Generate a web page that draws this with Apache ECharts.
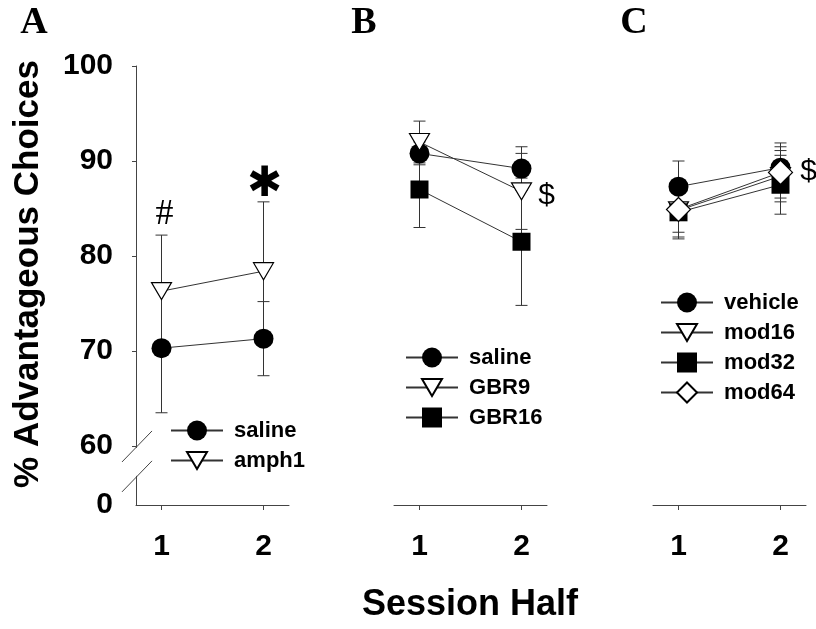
<!DOCTYPE html>
<html>
<head>
<meta charset="utf-8">
<script src="https://cdn.jsdelivr.net/npm/echarts@6/dist/echarts.min.js"></script>
<style>
  html, body { margin: 0; padding: 0; background: #fff; }
  #main { width: 816px; height: 629px; }
</style>
</head>
<body>
<div id="main"></div>
<script>
// session halves on the x axis
const halves = [1, 2];
const xTicks = [1, 2];
const yTicks = [60, 70, 80, 90, 100];

// panel A
const salineA = [70.3, 71.3];
const salineAErr = [6.8, 3.9];
const amph1 = [76.3, 78.4];
const amph1Err = [5.9, 7.3];

// panel B
const salineB = [90.8, 89.2];
const salineBErr = [1.2, 2.3];
const gbr9 = [92.0, 86.8];
const gbr9Err = [2.2, 4.0];
const gbr16 = [87.0, 81.5];
const gbr16Err = [4.0, 6.7];

// panel C
const vehicle = [87.3, 89.3];
const vehicleErr = [2.7, 2.6];
const mod16 = [84.8, 88.4];
const mod16Err = [3.0, 2.7];
const mod32 = [84.6, 87.5];
const mod32Err = [2.6, 3.1];
const mod64 = [84.9, 88.8];
const mod64Err = [2.4, 2.7];

const FONT = 'Liberation Sans, Arial, sans-serif';
const SERIF = 'Liberation Serif, Times New Roman, serif';
const AXIS_COLOR = '#444';
const Y_MIN = 53.79;   // bottom of the plot, shown as "0" below the break
// downward triangle, padded to a square box so the legend keeps its shape
const TRI = 'path://M0,1.5L20,1.5L10,18.5ZM0,0M0,20';

const chart = echarts.init(document.getElementById('main'), null, { renderer: 'canvas' });

function grid(left) {
  return { left: left, top: 66, width: 153, height: 439, containLabel: false, outerBoundsMode: 'none' };
}

function xAxis(idx) {
  return {
    type: 'value', gridIndex: idx, min: 0.75, max: 2.25,
    splitLine: { show: false },
    axisLine: { show: true, lineStyle: { color: AXIS_COLOR, width: 1 } },
    axisTick: { show: true, customValues: xTicks, length: 5, lineStyle: { color: AXIS_COLOR } },
    axisLabel: {
      show: true, customValues: xTicks, margin: 27,
      color: '#000', fontSize: 30, fontWeight: 'bold', fontFamily: FONT
    }
  };
}

function yAxis(idx, visible) {
  return {
    type: 'value', gridIndex: idx, min: Y_MIN, max: 100,
    splitLine: { show: false },
    axisLine: { show: visible, onZero: false, lineStyle: { color: AXIS_COLOR, width: 1 } },
    axisTick: { show: visible, customValues: yTicks, length: 4, lineStyle: { color: AXIS_COLOR } },
    axisLabel: {
      show: visible, customValues: [Y_MIN].concat(yTicks), margin: 23,
      color: '#000', fontSize: 30, fontWeight: 'bold', fontFamily: FONT,
      formatter: v => (v < 55 ? '0' : String(Math.round(v)))
    }
  };
}

function lineSeries(name, values, idx, symbol, size, fill) {
  const open = fill === '#fff';
  return {
    name: name, type: 'line', xAxisIndex: idx, yAxisIndex: idx,
    data: halves.map((h, i) => [h, values[i]]),
    symbol: symbol, symbolSize: size, showAllSymbol: true,
    itemStyle: { color: fill, borderColor: '#000', borderWidth: open ? 1.2 : 0, opacity: 1 },
    lineStyle: { color: '#333', width: 1 },
    emphasis: { disabled: true },
    z: 3, animation: false
  };
}

function renderErr(params, api) {
  const x = api.value(0);
  const top = api.coord([x, api.value(2)]);
  const bot = api.coord([x, api.value(1)]);
  const w = 6;
  const st = { stroke: '#333', lineWidth: 1 };
  return {
    type: 'group',
    children: [
      { type: 'line', shape: { x1: top[0], y1: top[1], x2: bot[0], y2: bot[1] }, style: st },
      { type: 'line', shape: { x1: top[0] - w, y1: top[1], x2: top[0] + w, y2: top[1] }, style: st },
      { type: 'line', shape: { x1: bot[0] - w, y1: bot[1], x2: bot[0] + w, y2: bot[1] }, style: st }
    ]
  };
}

function errSeries(idx, groups) {
  const data = [];
  groups.forEach(g => {
    halves.forEach((h, i) => data.push([h, g[0][i] - g[1][i], g[0][i] + g[1][i]]));
  });
  return {
    name: 'err' + idx, type: 'custom', xAxisIndex: idx, yAxisIndex: idx,
    encode: { x: 0, y: [1, 2] },
    data: data, renderItem: renderErr, silent: true, z: 1, animation: false
  };
}

function legend(names, left, top) {
  return {
    data: names, orient: 'vertical', left: left, top: top, padding: 0,
    itemWidth: 52, itemHeight: 25, itemGap: 5, selectedMode: false,
    formatter: n => ' ' + n,
    textStyle: { color: '#000', fontSize: 22, fontWeight: 'bold', fontFamily: FONT, lineHeight: 25 }
  };
}

const option = {
  backgroundColor: '#fff',
  animation: false,
  grid: [grid(136), grid(394), grid(653)],
  xAxis: [xAxis(0), xAxis(1), xAxis(2)],
  yAxis: [yAxis(0, true), yAxis(1, false), yAxis(2, false)],
  legend: [
    legend(['saline', 'amph1'], 170, 418),
    legend(['saline', 'GBR9', 'GBR16'], 405, 345),
    legend(['vehicle', 'mod16', 'mod32', 'mod64'], 660, 290)
  ],
  series: [
    errSeries(0, [[salineA, salineAErr], [amph1, amph1Err]]),
    errSeries(1, [[salineB, salineBErr], [gbr9, gbr9Err], [gbr16, gbr16Err]]),
    errSeries(2, [[vehicle, vehicleErr], [mod16, mod16Err], [mod32, mod32Err], [mod64, mod64Err]]),
    lineSeries('saline', salineA, 0, 'circle', 20, '#000'),
    lineSeries('amph1', amph1, 0, TRI, 20, '#fff'),
    lineSeries('saline', salineB, 1, 'circle', 20, '#000'),
    lineSeries('GBR9', gbr9, 1, TRI, 20, '#fff'),
    lineSeries('GBR16', gbr16, 1, 'rect', 18, '#000'),
    lineSeries('vehicle', vehicle, 2, 'circle', 20, '#000'),
    lineSeries('mod16', mod16, 2, TRI, 20, '#fff'),
    lineSeries('mod32', mod32, 2, 'rect', 18, '#000'),
    lineSeries('mod64', mod64, 2, 'diamond', 24, '#fff')
  ]
};
chart.setOption(option);

// decorations placed from the axes
const pA = v => chart.convertToPixel({ xAxisIndex: 0, yAxisIndex: 0 }, v);
const pB = v => chart.convertToPixel({ xAxisIndex: 1, yAxisIndex: 1 }, v);
const pC = v => chart.convertToPixel({ xAxisIndex: 2, yAxisIndex: 2 }, v);

function txt(x, y, s, font, rot) {
  return {
    type: 'text', x: x, y: y, rotation: rot || 0, z: 10,
    style: {
      text: s, font: font, fill: '#000',
      textAlign: 'center', textVerticalAlign: 'middle', align: 'center', verticalAlign: 'middle'
    }
  };
}

const breakHi = pA([0.75, 59.9]);
const breakLo = pA([0.75, 56.75]);
const graphics = [
  // axis break on panel A
  { type: 'rect', z: 9, shape: { x: breakHi[0] - 3, y: breakHi[1] + 1, width: 6, height: breakLo[1] - breakHi[1] - 2 },
    style: { fill: '#fff' } },
  { type: 'line', z: 10, shape: { x1: breakHi[0] - 14, y1: breakHi[1] + 15, x2: breakHi[0] + 16, y2: breakHi[1] - 16 },
    style: { stroke: AXIS_COLOR, lineWidth: 1 } },
  { type: 'line', z: 10, shape: { x1: breakLo[0] - 14, y1: breakLo[1] + 15, x2: breakLo[0] + 16, y2: breakLo[1] - 16 },
    style: { stroke: AXIS_COLOR, lineWidth: 1 } },
  // panel letters
  txt(34, 23, 'A', 'bold 38px ' + SERIF),
  txt(364, 23, 'B', 'bold 38px ' + SERIF),
  txt(634, 23, 'C', 'bold 38px ' + SERIF),
  // axis titles
  txt(28, 274, '% Advantageous Choices', 'bold 35px ' + FONT, Math.PI / 2),
  txt(470, 605, 'Session Half', 'bold 36px ' + FONT)
];

const hashPos = pA([1, amph1[0] + amph1Err[0]]);
graphics.push(txt(hashPos[0] + 3, hashPos[1] - 21, '#', '36px ' + SERIF));
const starPos = pA([2, amph1[1] + amph1Err[1]]);
graphics.push(txt(starPos[0] + 1, starPos[1] - 17, '\u2731', 'bold 42px DejaVu Sans'));
const dolB = pB([2, gbr9[1]]);
graphics.push(txt(dolB[0] + 25, dolB[1] + 4, '$', '30px ' + FONT));
const dolC = pC([2, mod64[1]]);
graphics.push(txt(dolC[0] + 28, dolC[1] - 1, '$', '30px ' + FONT));

chart.setOption({ graphic: graphics });
</script>
</body>
</html>
